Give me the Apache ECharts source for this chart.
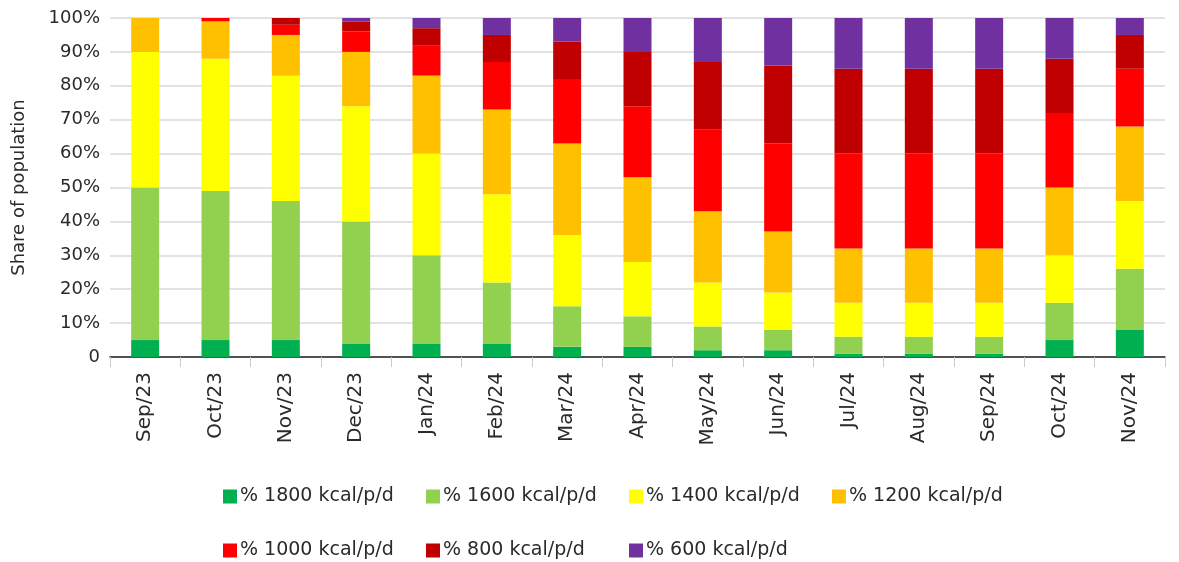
<!DOCTYPE html>
<html><head><meta charset="utf-8">
<script src="https://cdn.jsdelivr.net/npm/echarts@6/dist/echarts.min.js"></script>
<style>html,body{margin:0;padding:0;background:#fff}#c{width:1179px;height:562px}</style>
</head><body><div id="c"></div>
<script>
const categories = ['Sep/23','Oct/23','Nov/23','Dec/23','Jan/24','Feb/24','Mar/24','Apr/24','May/24','Jun/24','Jul/24','Aug/24','Sep/24','Oct/24','Nov/24'];
const seriesNames = ['% 1800 kcal/p/d','% 1600 kcal/p/d','% 1400 kcal/p/d','% 1200 kcal/p/d','% 1000 kcal/p/d','% 800 kcal/p/d','% 600 kcal/p/d'];
const kcal1800 = [5, 5, 5, 4, 4, 4, 3, 3, 2, 2, 1, 1, 1, 5, 8];
const kcal1600 = [45,44,41,36,26,18,12, 9, 7, 6, 5, 5, 5,11,18];
const kcal1400 = [40,39,37,34,30,26,21,16,13,11,10,10,10,14,20];
const kcal1200 = [10,11,12,16,23,25,27,25,21,18,16,16,16,20,22];
const kcal1000 = [ 0, 1, 3, 6, 9,14,19,21,24,26,28,28,28,22,17];
const kcal800  = [ 0, 0, 2, 3, 5, 8,11,16,20,23,25,25,25,16,10];
const kcal600  = [ 0, 0, 0, 1, 3, 5, 7,10,13,14,15,15,15,12, 5];
const yTicks = [0,10,20,30,40,50,60,70,80,90,100];

const colors = ['#00b050','#92d050','#ffff00','#ffc000','#ff0000','#c00000','#7030a0'];
const values = [kcal1800,kcal1600,kcal1400,kcal1200,kcal1000,kcal800,kcal600];
const FONT = 'DejaVu Sans';
const legendPos = [[218,482],[421,482],[624,482],[827,482],[218,536],[421,536],[624,536]];

const chart = echarts.init(document.getElementById('c'), null, {renderer:'canvas'});
chart.setOption({
  animation:false,
  textStyle:{fontFamily:FONT},
  grid:{left:110,right:14,top:18,bottom:205,containLabel:false},
  legend: seriesNames.map((n,i)=>({
    data:[n], left:legendPos[i][0], top:legendPos[i][1],
    icon:'rect', itemWidth:14, itemHeight:14, itemGap:10,
    textStyle:{fontFamily:FONT,fontSize:19,color:'#2a2a2a',padding:[0,0,0,-2]}
  })),
  xAxis:{
    type:'category', data:categories,
    axisLine:{lineStyle:{color:'#222',width:1.5}},
    axisTick:{show:true,length:10,alignWithLabel:false,lineStyle:{color:'#ccc'}},
    axisLabel:{rotate:90,margin:15,fontSize:20,color:'#2a2a2a',fontFamily:FONT}
  },
  yAxis:{
    type:'value', min:0, max:100, interval:10,
    name:'Share of population', nameLocation:'middle', nameGap:82, nameRotate:90,
    nameTextStyle:{fontSize:18,color:'#2a2a2a',fontFamily:FONT},
    axisLine:{show:false}, axisTick:{show:false},
    splitLine:{lineStyle:{color:'#d9d9d9',width:1.5}},
    axisLabel:{fontSize:18,color:'#2a2a2a',margin:10,fontFamily:FONT,
      formatter:v=> yTicks.includes(v) ? (v===0?'0':v+'%') : ''}
  },
  series: seriesNames.map((n,i)=>({
    name:n, type:'bar', stack:'total', barWidth:28,
    itemStyle:{color:colors[i]}, data:values[i]
  }))
});
</script></body></html>
